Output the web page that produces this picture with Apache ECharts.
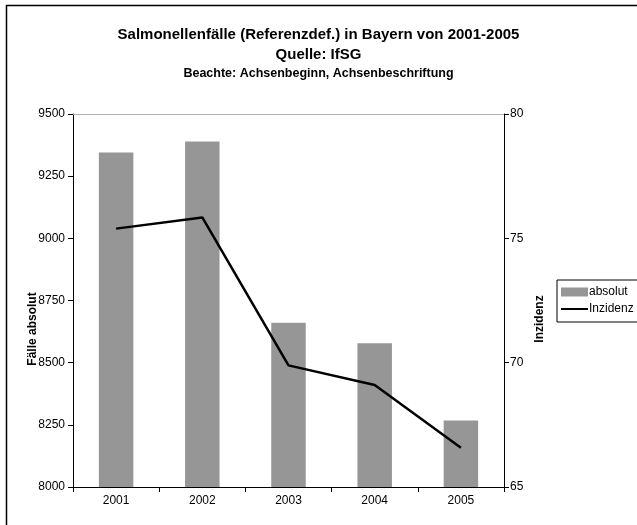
<!DOCTYPE html>
<html>
<head>
<meta charset="utf-8">
<script src="https://cdn.jsdelivr.net/npm/echarts@6/dist/echarts.min.js"></script>
<style>
html,body{margin:0;padding:0;background:#fff;}
#c{width:637px;height:525px;}
</style>
</head>
<body>
<div id="c"></div>
<script>
var categories = ['2001', '2002', '2003', '2004', '2005'];
var absolut = [9345, 9389, 8661, 8578, 8267];
var inzidenz = [75.39, 75.84, 69.89, 69.1, 66.58];
var leftTicks = [8000, 8250, 8500, 8750, 9000, 9250, 9500];
var rightTicks = [65, 70, 75, 80];

var FONT = '"Liberation Sans", Arial, sans-serif';
var chart = echarts.init(document.getElementById('c'), null, {renderer: 'canvas'});

var lineIcon = 'path://M0,0 L0.01,0 M0,3.6 L27,3.6 L27,5.4 L0,5.4 Z M27,9 L26.99,9';

var option = {
  backgroundColor: '#ffffff',
  animation: false,
  textStyle: {fontFamily: FONT},
  title: [
    {text: 'Salmonellenfälle (Referenzdef.) in Bayern von 2001-2005', left: 'center', top: 27, padding: [0, 0, 0, 14],
     textStyle: {fontFamily: FONT, fontSize: 15, fontWeight: 'bold', color: '#000'}},
    {text: 'Quelle: IfSG', left: 'center', top: 47, padding: [0, 0, 0, 14],
     textStyle: {fontFamily: FONT, fontSize: 15, fontWeight: 'bold', color: '#000'}},
    {text: 'Beachte: Achsenbeginn, Achsenbeschriftung', left: 'center', top: 67, padding: [0, 0, 0, 14],
     textStyle: {fontFamily: FONT, fontSize: 12.5, fontWeight: 'bold', color: '#000'}}
  ],
  legend: {
    orient: 'vertical',
    left: 557, top: 280,
    padding: [6, 6, 7, 4],
    itemGap: 5,
    itemWidth: 27, itemHeight: 9,
    borderColor: '#000', borderWidth: 1,
    textStyle: {fontFamily: FONT, fontSize: 12, color: '#000', padding: [0, 0, 0, -4]},
    data: [
      {name: 'absolut', icon: 'rect'},
      {name: 'Inzidenz', icon: lineIcon}
    ]
  },
  grid: {left: 73, right: 133, top: 114, bottom: 38, containLabel: false},
  xAxis: [
    {
      type: 'category', data: categories, boundaryGap: true, position: 'bottom',
      axisLine: {show: true, lineStyle: {color: '#000', width: 1}},
      axisTick: {show: true, interval: 0, length: 5, lineStyle: {color: '#000'}},
      axisLabel: {color: '#000', fontSize: 12, fontFamily: FONT, margin: 8},
      splitLine: {show: false}
    },
    {
      type: 'category', data: categories, position: 'top',
      axisLine: {show: true, lineStyle: {color: '#b0b0b0', width: 1}},
      axisTick: {show: false}, axisLabel: {show: false}, splitLine: {show: false}
    }
  ],
  yAxis: [
    {
      type: 'value', min: leftTicks[0], max: leftTicks[leftTicks.length - 1], interval: 250, position: 'left',
      axisLine: {show: true, lineStyle: {color: '#000', width: 1}},
      axisTick: {show: true, length: 5, lineStyle: {color: '#000'}},
      axisLabel: {color: '#000', fontSize: 12, fontFamily: FONT, margin: 8, formatter: function (v) { return String(v); }},
      splitLine: {show: false}
    },
    {
      type: 'value', min: rightTicks[0], max: rightTicks[rightTicks.length - 1], interval: 5, position: 'right',
      axisLine: {show: true, lineStyle: {color: '#000', width: 1}},
      axisTick: {show: true, length: 5, lineStyle: {color: '#000'}},
      axisLabel: {color: '#000', fontSize: 12, fontFamily: FONT, margin: 6, formatter: function (v) { return String(v); }},
      splitLine: {show: false}
    }
  ],
  series: [
    {
      name: 'absolut', type: 'bar', data: absolut, xAxisIndex: 0, yAxisIndex: 0,
      barWidth: '40%', itemStyle: {color: '#969696'}
    },
    {
      name: 'Inzidenz', type: 'line', data: inzidenz, xAxisIndex: 0, yAxisIndex: 1,
      symbol: 'none', lineStyle: {color: '#000', width: 2.5}, itemStyle: {color: '#000'}
    }
  ],
  graphic: [
    {type: 'rect', shape: {x: 6.5, y: 5.5, width: 700, height: 600}, style: {fill: 'none', stroke: '#000', lineWidth: 1.5}, silent: true},
    {type: 'text', x: 33, y: 329, rotation: Math.PI / 2,
     style: {text: 'Fälle absolut', font: 'bold 12px ' + FONT, fill: '#000', textAlign: 'center', textVerticalAlign: 'middle'}},
    {type: 'text', x: 540, y: 319, rotation: Math.PI / 2,
     style: {text: 'Inzidenz', font: 'bold 12px ' + FONT, fill: '#000', textAlign: 'center', textVerticalAlign: 'middle'}}
  ]
};
chart.setOption(option);
</script>
</body>
</html>
